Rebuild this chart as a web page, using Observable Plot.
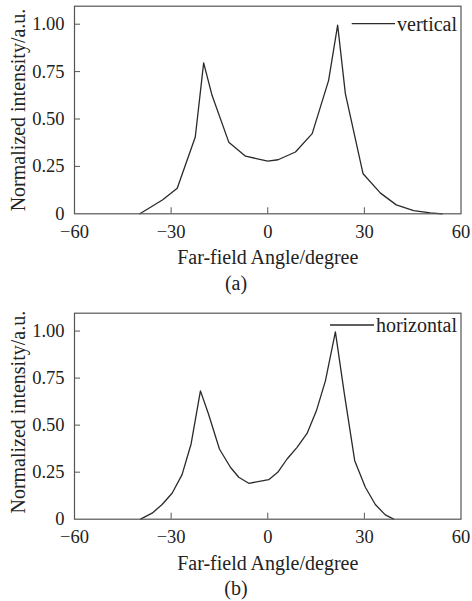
<!DOCTYPE html>
<html><head><meta charset="utf-8">
<script src="https://cdn.jsdelivr.net/npm/d3@7"></script>
<script src="https://cdn.jsdelivr.net/npm/@observablehq/plot@0.6"></script>
<style>
body{margin:0;background:#fff;overflow:hidden;font-family:"Liberation Serif",serif;}
.cap{width:472px;text-align:center;font-size:20px;color:#222;font-family:"Liberation Serif",serif;}
svg{display:block}
svg text{font-family:"Liberation Serif",serif !important;}
</style></head><body><div id="root"></div>
<script>
// Panel (a): vertical far-field profile
const verticalAngle = [-39.7, -32.6, -28.1, -22.5, -19.9, -17.3, -12.1, -6.9, 0, 3.2, 8.6, 13.8, 18.9, 21.7, 24.1, 29.6, 35.0, 39.9, 45.3, 50.5, 54.2];
const verticalIntensity = [0, 0.074, 0.135, 0.405, 0.796, 0.625, 0.378, 0.304, 0.278, 0.285, 0.326, 0.423, 0.704, 0.995, 0.634, 0.211, 0.109, 0.047, 0.017, 0.005, 0];
// Panel (b): horizontal far-field profile
const horizontalAngle = [-39.5, -35.9, -32.8, -29.7, -26.6, -23.8, -20.9, -18.4, -15.0, -11.6, -9.0, -5.9, 0.3, 3.1, 6.0, 9.1, 12.2, 15.1, 17.9, 21.0, 23.8, 27.0, 30.3, 33.4, 36.5, 39.1];
const horizontalIntensity = [0, 0.032, 0.078, 0.138, 0.237, 0.40, 0.682, 0.559, 0.373, 0.276, 0.223, 0.191, 0.21, 0.249, 0.32, 0.382, 0.456, 0.576, 0.735, 0.996, 0.665, 0.311, 0.17, 0.078, 0.023, 0];

const xTicks = [-60, -30, 0, 30, 60];
const yTicks = [0, 0.25, 0.5, 0.75, 1];
const xLabel = "Far-field Angle/degree";
const yLabel = "Normalized intensity/a.u.";
const seriesNames = ["vertical", "horizontal"];
const captions = ["(a)", "(b)"];

const root = document.getElementById("root");

function swatchMark(x1off, x2off, dyLine) {
  return (index, scales, values, dims) => {
    const R = dims.width - dims.marginRight;
    const y = dims.marginTop + dyLine;
    const l = document.createElementNS("http://www.w3.org/2000/svg", "line");
    l.setAttribute("x1", R - x1off);
    l.setAttribute("x2", R - x2off);
    l.setAttribute("y1", y);
    l.setAttribute("y2", y);
    l.setAttribute("stroke", "#2a2a2a");
    l.setAttribute("stroke-width", 1.3);
    return l;
  };
}

function panel(angle, intensity, name, opts) {
  const data = angle.map((a, i) => ({a, v: intensity[i]}));
  return Plot.plot({
    width: 472,
    height: 272,
    marginLeft: 74,
    marginRight: 11.5,
    marginTop: opts.marginTop,
    marginBottom: opts.marginBottom,
    style: {fontFamily: "'Liberation Serif', serif", fontSize: "18.5px", color: "#222", background: "#fff", overflow: "visible"},
    x: {domain: [-60, 60], ticks: xTicks, tickSize: 0, tickPadding: 11, label: null},
    y: {domain: [0, 1.095], ticks: yTicks, tickSize: 0, tickPadding: 10, label: null,
        tickFormat: d => d === 0 ? "0" : d.toFixed(2)},
    marks: [
      Plot.ruleX(xTicks.slice(1, -1), {y1: 0, y2: 0, insetBottom: 6, stroke: "#555", strokeWidth: 1}),
      Plot.ruleY(yTicks.slice(1), {x1: -60, x2: -60, insetRight: -6, stroke: "#555", strokeWidth: 1}),
      Plot.line(data, {x: "a", y: "v", stroke: "#2a2a2a", strokeWidth: 1.3}),
      Plot.frame({stroke: "#555", strokeWidth: 1.2}),
      Plot.text([xLabel], {frameAnchor: "bottom", dy: 44, fontSize: 20, fill: "#222", lineAnchor: "middle", textAnchor: "middle"}),
      Plot.text([yLabel], {frameAnchor: "left", dx: -56, dy: opts.yLabelDy, rotate: -90, fontSize: 20, fill: "#222", lineAnchor: "middle", textAnchor: "middle"}),
      Plot.text([name], {frameAnchor: "top-right", dx: -4, dy: opts.legendDy, textAnchor: "end", lineAnchor: "middle", fontSize: 20, fill: "#222"}),
      swatchMark(opts.sw1, opts.sw2, opts.swDy)
    ]
  });
}

const pa = panel(verticalAngle, verticalIntensity, seriesNames[0],
  {marginTop: 5.7, marginBottom: 58.7, legendDy: 18.5, sw1: 108.8, sw2: 65.5, swDy: 18, yLabelDy: 0});
root.appendChild(pa);
const ca = document.createElement("div");
ca.className = "cap"; ca.style.height = "28px"; ca.style.lineHeight = "23px";
ca.textContent = captions[0];
root.appendChild(ca);

const pb = panel(horizontalAngle, horizontalIntensity, seriesNames[1],
  {marginTop: 12.7, marginBottom: 53.3, legendDy: 12.3, sw1: 130.5, sw2: 86.5, swDy: 12.3, yLabelDy: -4});
root.appendChild(pb);
const cb = document.createElement("div");
cb.className = "cap"; cb.style.height = "29px"; cb.style.lineHeight = "32px";
cb.textContent = captions[1];
root.appendChild(cb);
</script></body></html>
